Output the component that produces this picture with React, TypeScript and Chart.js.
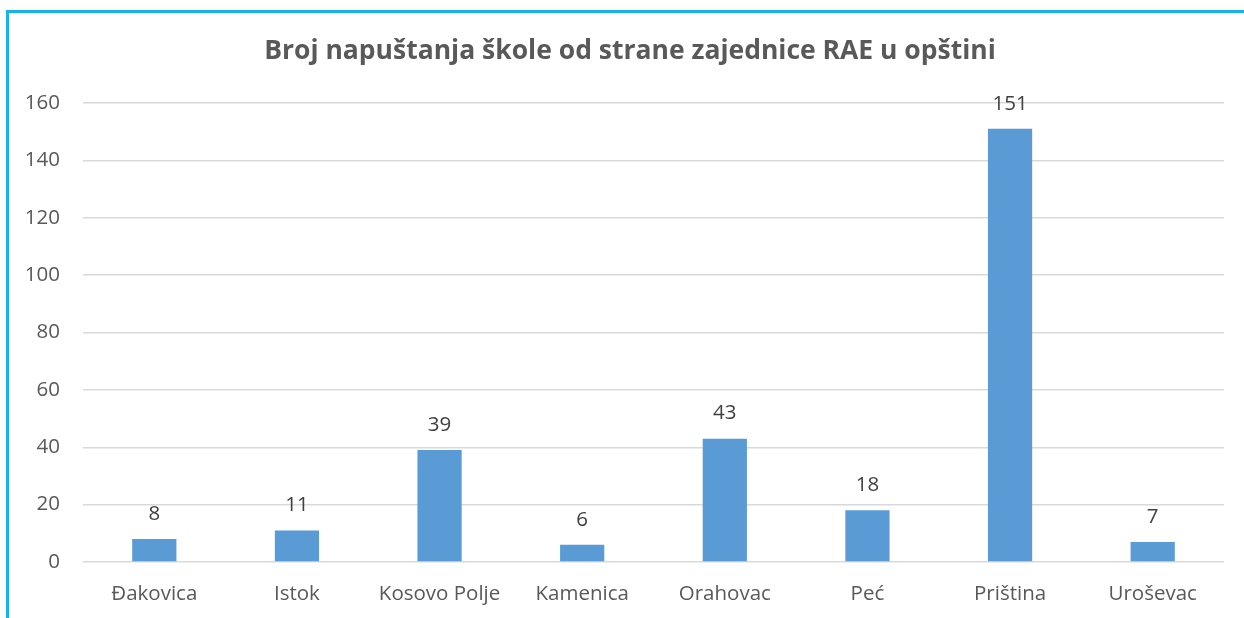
import React, { useEffect, useRef } from "react";
import { Chart, registerables } from "chart.js";

Chart.register(...registerables);

const titleText = "Broj napuštanja škole od strane zajednice RAE u opštini";
const categories = ["Đakovica", "Istok", "Kosovo Polje", "Kamenica", "Orahovac", "Peć", "Priština", "Uroševac"];
const values = [8, 11, 39, 6, 43, 18, 151, 7];
const yTicks = [0, 20, 40, 60, 80, 100, 120, 140, 160];

const FONT = "'Open Sans', sans-serif";

export default function App() {
  const ref = useRef<HTMLCanvasElement | null>(null);
  useEffect(() => {
    const canvas = ref.current;
    if (!canvas) return;
    const labelsPlugin = {
      id: "barLabels",
      afterDatasetsDraw(chart: any) {
        const ctx = chart.ctx;
        const meta = chart.getDatasetMeta(0);
        ctx.save();
        ctx.font = `20.5px ${FONT}`;
        ctx.fillStyle = "#404040";
        ctx.textAlign = "center";
        ctx.textBaseline = "middle";
        meta.data.forEach((el: any, i: number) => {
          ctx.fillText(String(values[i]), el.x, el.y - 25);
        });
        ctx.restore();
      },
    };
    const titlePlugin = {
      id: "customTitle",
      afterDraw(chart: any) {
        const ctx = chart.ctx;
        ctx.save();
        ctx.font = `bold 26.5px ${FONT}`;
        ctx.fillStyle = "#595959";
        ctx.textAlign = "center";
        ctx.textBaseline = "middle";
        ctx.fillText(titleText, 630, 51);
        ctx.restore();
      },
    };
    const chart = new Chart(canvas, {
      type: "bar",
      data: {
        labels: categories,
        datasets: [
          {
            data: values,
            backgroundColor: "#5b9bd5",
            barPercentage: 0.31,
            categoryPercentage: 1,
          },
        ],
      },
      options: {
        animation: false,
        responsive: false,
        maintainAspectRatio: false,
        layout: { padding: { left: 0, right: 20, top: 103, bottom: 0 } },
        plugins: { legend: { display: false }, tooltip: { enabled: false }, title: { display: false } },
        scales: {
          x: {
            grid: { display: false, drawTicks: false },
            border: { display: false },
            ticks: { color: "#595959", font: { family: FONT, size: 20.5 }, padding: 20, maxRotation: 0 },
            afterFit(scale: any) {
              scale.height = 56;
            },
          },
          y: {
            min: 0,
            max: 160,
            afterBuildTicks(scale: any) {
              scale.ticks = yTicks.map((v) => ({ value: v }));
            },
            grid: { color: "#d9d9d9", lineWidth: 1.5, drawTicks: false },
            border: { display: false },
            ticks: { color: "#595959", font: { family: FONT, size: 20.5 }, padding: 23 },
            afterFit(scale: any) {
              scale.width = 83;
            },
          },
        },
      },
      plugins: [labelsPlugin, titlePlugin],
    });
    return () => chart.destroy();
  }, []);
  return (
    <div style={{ position: "fixed", left: 0, top: 0, width: 1244, height: 618, background: "#fff", overflow: "hidden" }}>
      <div
        style={{
          position: "absolute",
          left: 6,
          top: 10,
          width: 1300,
          height: 700,
          border: "3px solid #1ab2ec",
          boxSizing: "border-box",
        }}
      />
      <canvas ref={ref} width={1244} height={618} style={{ position: "absolute", left: 0, top: 0, width: 1244, height: 618 }} />
    </div>
  );
}
